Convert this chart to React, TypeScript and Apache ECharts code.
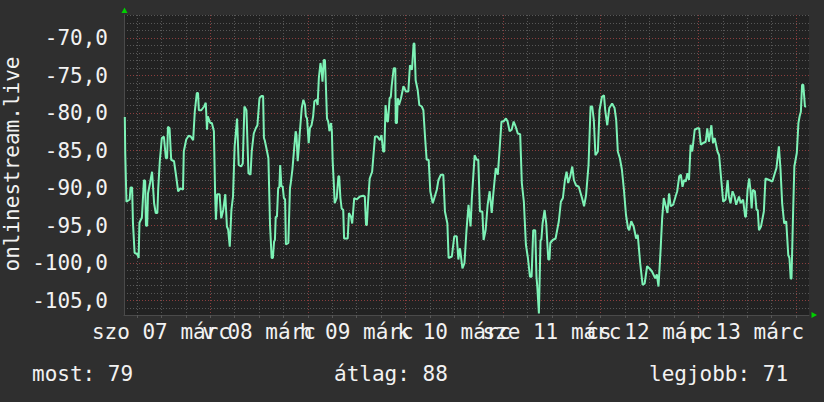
import React, { useEffect, useRef } from 'react';
import * as echarts from 'echarts';

const FONT = "'DejaVu Sans Mono', monospace";

// Time axis in hours since 2026-03-07 00:00
const X_MIN = 2.8;
const X_MAX = 171.2;
const Y_MIN = -106.9;
const Y_MAX = -66.9;

const dayLabelHours = [12, 36, 60, 84, 108, 132, 156];
const dayLabels = ['szo 07 márc', 'v 08 márc', 'h 09 márc', 'k 10 márc', 'sze 11 márc', 'cs 12 márc', 'p 13 márc'];
const gridHours = [6, 12, 18, 24, 30, 36, 42, 48, 54, 60, 66, 72, 78, 84, 90, 96, 102, 108, 114, 120, 126, 132, 138, 144, 150, 156, 162, 168];
const yLabelValues = [-105, -100, -95, -90, -85, -80, -75, -70];
const yGridValues = [-106, -105, -104, -103, -102, -101, -100, -99, -98, -97, -96, -95, -94, -93, -92, -91, -90, -89, -88, -87, -86, -85, -84, -83, -82, -81, -80, -79, -78, -77, -76, -75, -74, -73, -72, -71, -70, -69, -68, -67];

const yTitle = 'onlinestream.live';
const legendTexts = ['most: 79', 'átlag: 88', 'legjobb: 71'];

// [hour, value]
const day07: [number, number][] = [
  [3.0, -80.5], [3.1, -85.2], [3.4, -91.8], [4.2, -91.5], [4.4, -89.9], [4.8, -89.9], [5.0, -94.6], [5.4, -98.6], [6.1, -98.8], [6.4, -99.3],
  [6.6, -94.6], [7.2, -93.9], [7.7, -88.9], [8.0, -89.0], [8.2, -95.0], [8.5, -95.0], [8.7, -90.7], [9.2, -89.3], [9.7, -87.8], [10.2, -92.0],
  [10.6, -93.3], [11.0, -93.3], [11.2, -90.2], [11.6, -86.4], [12.1, -83.3], [12.6, -83.1], [13.1, -86.0], [13.4, -86.0], [13.6, -81.8], [14.0, -82.0],
  [14.4, -86.2], [15.1, -86.4], [15.7, -88.7], [16.1, -90.4], [16.7, -90.0], [17.3, -90.2], [17.5, -85.1], [18.1, -83.5], [18.7, -83.0], [19.2, -83.1],
  [19.8, -83.6], [20.2, -79.8], [20.7, -77.3], [21.0, -77.3], [21.2, -79.6], [21.8, -79.6], [22.5, -79.1], [22.9, -78.6], [23.2, -82.2], [23.4, -80.4],
  [24.0, -81.3], [24.4, -81.3], [24.9, -82.4], [25.2, -90.8], [25.4, -94.2], [25.7, -90.8], [26.3, -90.8], [26.7, -94.0], [27.2, -92.9], [27.7, -90.8],
  [28.1, -95.1], [28.4, -95.5], [28.8, -97.8], [29.2, -92.9], [29.6, -91.1], [30.0, -84.4], [30.6, -80.7], [31.0, -86.9], [31.6, -87.1], [32.0, -86.7],
  [32.4, -79.1], [32.9, -79.6], [33.4, -88.0], [33.9, -88.2], [34.2, -85.1], [34.7, -82.7], [35.2, -82.0],
];
const day08: [number, number][] = [
  [35.6, -81.6], [36.1, -78.0], [36.6, -77.7], [37.0, -77.7], [37.2, -83.3], [37.4, -83.6], [37.9, -84.9], [38.3, -86.0], [38.7, -94.9], [39.1, -99.3],
  [39.4, -99.3], [39.7, -97.1], [39.9, -96.9], [40.1, -93.8], [40.4, -93.8], [40.7, -90.0], [41.0, -89.8], [41.2, -86.9], [41.5, -89.8], [41.8, -89.7],
  [42.1, -91.3], [42.4, -91.5], [42.6, -97.5], [43.2, -97.3], [43.6, -90.0], [43.8, -89.3], [44.2, -87.5], [44.6, -84.9], [45.0, -82.4], [45.2, -82.9],
  [45.5, -86.4], [45.8, -84.4], [46.0, -82.7], [46.5, -79.3], [46.9, -78.2], [47.3, -78.9], [47.5, -80.4], [47.8, -80.7], [48.2, -84.0], [48.5, -82.0],
  [48.9, -81.6], [49.3, -80.4], [49.6, -78.4], [50.1, -78.2], [50.4, -78.9], [50.7, -75.3], [51.1, -73.3], [51.4, -74.5], [51.6, -75.8], [51.9, -72.9],
  [52.2, -72.9], [52.4, -75.8], [52.7, -80.7], [53.0, -81.1], [53.3, -82.4], [53.7, -81.3], [53.9, -82.4], [54.1, -86.4], [54.4, -89.6], [54.6, -92.0],
  [55.1, -91.3], [55.5, -88.4], [55.7, -88.4], [56.0, -91.3], [56.3, -92.7], [56.7, -92.9], [56.9, -96.7], [57.8, -96.7], [58.1, -93.3], [58.6, -93.8],
  [58.9, -94.7], [59.4, -91.3], [60.0, -91.5], [60.8, -91.1], [61.6, -91.0], [62.0, -91.1], [62.3, -94.9], [62.5, -94.9], [62.8, -91.8], [63.2, -88.7],
  [63.8, -87.8], [64.1, -85.8], [64.5, -83.1], [65.1, -83.1], [65.7, -83.6], [66.1, -82.9], [66.5, -85.1], [66.8, -85.1], [67.1, -78.9], [67.5, -81.1],
  [67.7, -81.1], [68.1, -78.0], [68.4, -77.8], [68.6, -76.4],
];
const day09: [number, number][] = [
  [69.1, -74.0], [69.5, -74.0], [69.6, -81.3], [69.9, -81.3], [70.1, -78.0], [70.4, -78.9], [70.9, -78.0], [71.5, -76.4], [72.1, -77.1], [72.7, -77.1],
  [73.1, -73.6], [73.6, -74.2], [74.0, -70.7], [74.2, -70.7], [74.5, -75.6], [75.0, -76.9], [75.4, -78.9], [76.0, -79.1], [76.4, -79.6], [76.8, -83.1],
  [77.2, -86.2], [77.7, -86.2], [78.1, -90.4], [78.7, -92.0], [79.1, -91.3], [79.7, -90.2], [80.1, -88.9], [80.7, -88.2], [81.3, -88.2], [81.7, -93.1],
  [82.3, -94.7], [82.6, -99.3], [83.4, -99.1], [84.0, -96.4], [84.6, -96.4], [85.0, -99.5], [85.4, -98.0], [86.0, -100.7], [86.5, -100.0], [87.0, -95.6],
  [87.5, -92.2], [88.0, -95.1], [88.3, -91.5], [89.0, -85.6], [89.5, -86.2], [89.9, -86.2], [90.3, -93.1], [90.9, -93.1], [91.2, -96.9], [91.7, -95.6],
  [92.2, -92.2], [92.7, -90.4], [93.2, -93.3], [93.6, -90.7], [94.2, -87.3], [94.7, -88.2], [95.1, -85.1], [95.6, -81.1], [96.1, -81.1], [96.7, -80.7],
  [97.1, -81.1], [97.6, -82.4], [98.1, -82.2], [98.6, -81.1], [99.1, -81.8], [99.6, -82.7], [100.2, -82.8], [100.6, -89.3], [101.1, -91.8], [101.6, -97.5],
  [102.1, -99.3], [102.6, -101.8], [103.0, -101.8],
];
const day11: [number, number][] = [
  [103.4, -95.6], [103.9, -95.6], [104.2, -101.8], [104.4, -103.1], [104.8, -106.7], [105.2, -96.9], [105.4, -96.9], [105.7, -94.7], [106.2, -92.9], [106.6, -94.7],
  [107.1, -99.5], [107.4, -99.5], [107.6, -97.3], [108.2, -96.9], [108.9, -96.7], [109.7, -94.4], [110.2, -91.8], [110.7, -91.3], [111.2, -88.9], [111.6, -87.8],
  [112.0, -89.3], [112.5, -88.4], [113.0, -87.1], [113.4, -88.9], [113.9, -89.6], [114.6, -89.8], [115.4, -91.3], [115.9, -92.4], [116.4, -90.9], [117.0, -86.9],
  [117.5, -79.1], [117.9, -79.1], [118.3, -80.9], [118.7, -85.6], [119.3, -85.1], [119.7, -79.6], [120.3, -77.8], [120.8, -77.6], [121.1, -79.6], [121.6, -81.6],
  [122.1, -79.3], [122.8, -78.7], [123.4, -79.3], [123.8, -80.9], [124.2, -85.1], [124.7, -86.0], [125.2, -87.5], [125.7, -90.2], [126.2, -93.5], [126.7, -95.3],
  [127.0, -95.6], [127.5, -94.4], [128.1, -95.1], [128.7, -96.7], [129.1, -96.2], [129.7, -100.0], [130.3, -102.9], [130.8, -102.7], [131.4, -100.4], [132.0, -100.7],
  [132.6, -101.1], [133.4, -102.0], [133.8, -101.5], [134.2, -103.1], [134.7, -98.4], [135.1, -94.0], [135.5, -91.3],
];
const day12: [number, number][] = [
  [136.4, -93.3], [136.8, -90.7], [137.2, -92.4], [137.8, -92.2], [138.4, -91.1], [138.8, -90.4], [139.3, -88.4], [139.7, -88.2], [140.1, -89.8], [140.5, -88.9],
  [140.9, -89.1], [141.3, -88.0], [141.7, -88.9], [142.1, -84.2], [142.5, -85.1], [143.1, -82.2], [143.8, -82.0], [144.2, -82.0], [144.6, -84.2], [145.1, -84.0],
  [145.8, -83.8], [146.2, -82.0], [146.6, -83.8], [147.2, -81.6], [147.6, -84.0], [148.0, -83.3], [148.7, -85.1], [149.1, -85.6], [149.7, -89.3], [150.1, -91.8],
  [150.7, -91.5], [151.2, -88.9], [151.5, -91.1], [151.9, -92.0], [152.4, -90.4], [152.9, -91.1], [153.3, -92.2], [154.0, -91.1], [154.4, -92.0], [155.0, -91.5],
  [155.5, -93.8], [155.7, -93.8], [156.1, -90.2], [156.5, -88.7], [156.8, -90.2], [157.1, -92.7], [157.4, -90.2], [157.9, -90.4], [158.3, -92.9], [158.6, -92.9],
  [158.9, -95.6], [159.4, -95.1], [160.1, -93.1], [160.5, -88.7], [161.4, -88.9], [162.2, -89.1], [162.8, -88.0], [163.2, -87.3], [163.8, -84.4], [164.2, -87.5],
  [164.6, -92.0], [165.1, -94.7], [165.6, -94.4], [166.1, -98.9], [166.4, -99.3], [166.7, -102.1], [166.9, -102.0], [167.3, -93.1], [167.6, -87.1], [168.2, -85.3],
  [168.6, -81.3], [168.9, -80.4], [169.2, -79.8], [169.5, -76.2], [169.8, -76.2], [170.2, -79.1], [170.5, -79.1],
];

const TEXT = '#f2f2f2';
const MINOR = '#575757';
const MAJOR = '#8a3e3e';
const LINE = '#7df2b6';
const ARROW = '#00d000';

// labels split over two axes so that the overlapping neighbours are all kept
const labelsEven = dayLabelHours.filter((_, i) => i % 2 === 0);
const labelsOdd = dayLabelHours.filter((_, i) => i % 2 === 1);
const fmtDay = (v: number) => dayLabels[dayLabelHours.indexOf(Math.round(v))] ?? '';

export default function App() {
  const ref = useRef<HTMLDivElement>(null);
  useEffect(() => {
    const chart = echarts.init(ref.current!, null, { renderer: 'svg' });
    const data = [...day07, ...day08, ...day09, ...day11, ...day12];
    const labelStyle = {
      color: TEXT,
      fontFamily: FONT,
      fontSize: 21,
      margin: 6,
      hideOverlap: false,
      showMinLabel: true,
      showMaxLabel: true,
      formatter: fmtDay,
    };
    const option: any = {
      animation: false,
      backgroundColor: '#2f2f2f',
      textStyle: { fontFamily: FONT },
      grid: { left: 124, top: 15, width: 685, height: 300, show: true, backgroundColor: '#222222', borderWidth: 0 },
      xAxis: [
        {
          type: 'value',
          position: 'bottom',
          min: X_MIN,
          max: X_MAX,
          axisLine: { show: true, lineStyle: { color: '#4a4a4a', width: 1 } },
          axisTick: { show: true, customValues: gridHours, length: 3, lineStyle: { color: MINOR } },
          splitLine: { show: true, lineStyle: { color: [MINOR, MINOR, MINOR, MAJOR], type: [1, 2], width: 1 } },
          axisLabel: { ...labelStyle, show: true, customValues: labelsEven },
        },
        {
          type: 'value',
          position: 'bottom',
          min: X_MIN,
          max: X_MAX,
          axisLine: { show: false },
          axisTick: { show: false },
          splitLine: { show: false },
          axisLabel: { ...labelStyle, show: true, customValues: labelsOdd },
        },
      ],
      yAxis: {
        type: 'value',
        min: Y_MIN,
        max: Y_MAX,
        axisLine: { show: true, lineStyle: { color: '#4a4a4a', width: 1 } },
        axisTick: { show: false, customValues: yGridValues },
        splitLine: { show: true, lineStyle: { color: [MINOR, MAJOR, MINOR, MINOR, MINOR], type: [1, 2], width: 1 } },
        axisLabel: {
          show: true,
          customValues: yLabelValues,
          formatter: (v: number) => v.toFixed(1).replace('.', ','),
          color: TEXT,
          fontFamily: FONT,
          fontSize: 21,
          margin: 16,
          showMinLabel: true,
          showMaxLabel: true,
        },
      },
      graphic: [
        { type: 'text', x: 12, y: 164, rotation: Math.PI / 2, style: { text: yTitle, fill: TEXT, font: `21px ${FONT}`, textAlign: 'center', textVerticalAlign: 'middle' } },
        { type: 'text', x: 32, y: 374, style: { text: legendTexts[0], fill: TEXT, font: `21px ${FONT}`, textAlign: 'left', textVerticalAlign: 'middle' } },
        { type: 'text', x: 334, y: 374, style: { text: legendTexts[1], fill: TEXT, font: `21px ${FONT}`, textAlign: 'left', textVerticalAlign: 'middle' } },
        { type: 'text', x: 649, y: 374, style: { text: legendTexts[2], fill: TEXT, font: `21px ${FONT}`, textAlign: 'left', textVerticalAlign: 'middle' } },
        { type: 'polygon', shape: { points: [[121.5, 13], [127.5, 13], [124.5, 7.5]] }, style: { fill: ARROW } },
        { type: 'polygon', shape: { points: [[811.5, 312], [811.5, 318], [817, 315]] }, style: { fill: ARROW } },
      ],
      series: [
        {
          type: 'line',
          xAxisIndex: 0,
          yAxisIndex: 0,
          data,
          showSymbol: false,
          symbol: 'none',
          lineStyle: { color: LINE, width: 2 },
          z: 5,
        },
      ],
    };
    chart.setOption(option);
    return () => chart.dispose();
  }, []);
  return <div ref={ref} style={{ position: 'fixed', left: 0, top: 0, width: 824, height: 402 }} />;
}
